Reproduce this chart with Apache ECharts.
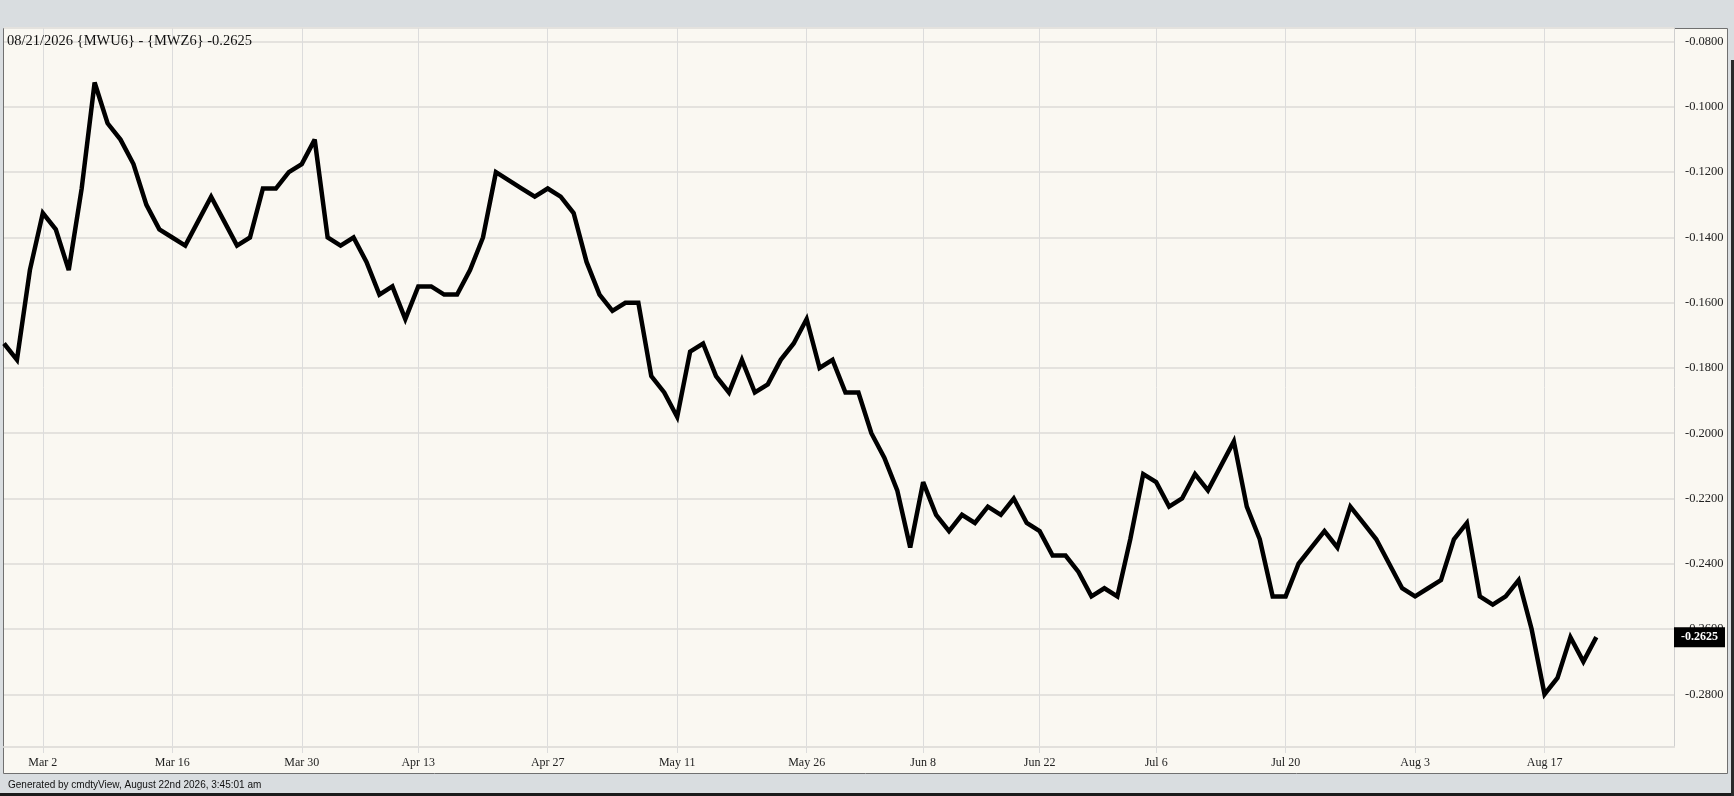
<!DOCTYPE html>
<html>
<head>
<meta charset="utf-8">
<script src="https://cdn.jsdelivr.net/npm/echarts@6/dist/echarts.min.js"></script>
<style>
html,body{margin:0;padding:0;background:#d9dde0;}
#chart{width:1734px;height:796px;}
</style>
</head>
<body>
<div id="chart"></div>
<script>
// Trading days (categories); the last few are empty future slots on the axis
const dates = [
 "Feb 25","Feb 26","Feb 27",
 "Mar 2","Mar 3","Mar 4","Mar 5","Mar 6",
 "Mar 9","Mar 10","Mar 11","Mar 12","Mar 13",
 "Mar 16","Mar 17","Mar 18","Mar 19","Mar 20",
 "Mar 23","Mar 24","Mar 25","Mar 26","Mar 27",
 "Mar 30","Mar 31","Apr 1","Apr 2",
 "Apr 6","Apr 7","Apr 8","Apr 9","Apr 10",
 "Apr 13","Apr 14","Apr 15","Apr 16","Apr 17",
 "Apr 20","Apr 21","Apr 22","Apr 23","Apr 24",
 "Apr 27","Apr 28","Apr 29","Apr 30","May 1",
 "May 4","May 5","May 6","May 7","May 8",
 "May 11","May 12","May 13","May 14","May 15",
 "May 18","May 19","May 20","May 21","May 22",
 "May 26","May 27","May 28","May 29",
 "Jun 1","Jun 2","Jun 3","Jun 4","Jun 5",
 "Jun 8","Jun 9","Jun 10","Jun 11","Jun 12",
 "Jun 15","Jun 16","Jun 17","Jun 18",
 "Jun 22","Jun 23","Jun 24","Jun 25","Jun 26",
 "Jun 29","Jun 30","Jul 1","Jul 2",
 "Jul 6","Jul 7","Jul 8","Jul 9","Jul 10",
 "Jul 13","Jul 14","Jul 15","Jul 16","Jul 17",
 "Jul 20","Jul 21","Jul 22","Jul 23","Jul 24",
 "Jul 27","Jul 28","Jul 29","Jul 30","Jul 31",
 "Aug 3","Aug 4","Aug 5","Aug 6","Aug 7",
 "Aug 10","Aug 11","Aug 12","Aug 13","Aug 14",
 "Aug 17","Aug 18","Aug 19","Aug 20","Aug 21",
 "Aug 24","Aug 25","Aug 26","Aug 27","Aug 28","Aug 31"
];

// Spread values {MWU6} - {MWZ6}
const spread = [
 -0.1725,-0.1775,-0.1500,
 -0.1325,-0.1375,-0.1500,-0.1250,-0.0925,
 -0.1050,-0.1100,-0.1175,-0.1300,-0.1375,
 -0.1400,-0.1425,-0.1350,-0.1275,-0.1350,
 -0.1425,-0.1400,-0.1250,-0.1250,-0.1200,
 -0.1175,-0.1100,-0.1400,-0.1425,
 -0.1400,-0.1475,-0.1575,-0.1550,-0.1650,
 -0.1550,-0.1550,-0.1575,-0.1575,-0.1500,
 -0.1400,-0.1200,-0.1225,-0.1250,-0.1275,
 -0.1250,-0.1275,-0.1325,-0.1475,-0.1575,
 -0.1625,-0.1600,-0.1600,-0.1825,-0.1875,
 -0.1950,-0.1750,-0.1725,-0.1825,-0.1875,
 -0.1775,-0.1875,-0.1850,-0.1775,-0.1725,
 -0.1650,-0.1800,-0.1775,-0.1875,
 -0.1875,-0.2000,-0.2075,-0.2175,-0.2350,
 -0.2150,-0.2250,-0.2300,-0.2250,-0.2275,
 -0.2225,-0.2250,-0.2200,-0.2275,
 -0.2300,-0.2375,-0.2375,-0.2425,-0.2500,
 -0.2475,-0.2500,-0.2325,-0.2125,
 -0.2150,-0.2225,-0.2200,-0.2125,-0.2175,
 -0.2100,-0.2025,-0.2225,-0.2325,-0.2500,
 -0.2500,-0.2400,-0.2350,-0.2300,-0.2350,
 -0.2225,-0.2275,-0.2325,-0.2400,-0.2475,
 -0.2500,-0.2475,-0.2450,-0.2325,-0.2275,
 -0.2500,-0.2525,-0.2500,-0.2450,-0.2600,
 -0.2800,-0.2750,-0.2625,-0.2700,-0.2625
];

// Labelled dates on the x axis
const tickLabels = ["Mar 2","Mar 16","Mar 30","Apr 13","Apr 27","May 11","May 26",
                    "Jun 8","Jun 22","Jul 6","Jul 20","Aug 3","Aug 17"];

const titleText = "08/21/2026 {MWU6} - {MWZ6} -0.2625";
const footerText = "Generated by cmdtyView, August 22nd 2026, 3:45:01 am";
const yMin = -0.29616, yMax = -0.0758;

const lastValue = spread[spread.length - 1];
const isTick = (idx, val) => tickLabels.indexOf(val) !== -1;
const serif = "'Liberation Serif', 'Times New Roman', serif";

const chart = echarts.init(document.getElementById('chart'), null, {renderer: 'canvas'});
chart.setOption({
  animation: false,
  backgroundColor: '#d9dde0',
  title: {
    text: titleText,
    left: 7, top: 34, padding: 0,
    textStyle: {fontFamily: serif, fontSize: 14.5, fontWeight: 'normal', color: '#111'}
  },
  graphic: {
    elements: [
      {type: 'rect', z: -100, shape: {x: 3.5, y: 28.5, width: 1724, height: 745},
       style: {fill: '#faf8f2', stroke: '#707070', lineWidth: 1}},
      {type: 'rect', z: -100, shape: {x: 0, y: 793, width: 1734, height: 3}, style: {fill: '#1b1b1b'}},
      {type: 'rect', z: -100, shape: {x: 1731, y: 60, width: 3, height: 736}, style: {fill: '#2a2a2a'}},
      {type: 'text', left: 8, top: 780,
       style: {text: footerText, font: "10px 'Liberation Sans', Arial, sans-serif", fill: '#111'}}
    ]
  },
  grid: {left: 4, right: 60, top: 28, bottom: 49, containLabel: false, show: false},
  xAxis: {
    type: 'category',
    data: dates,
    boundaryGap: false,
    axisLine: {show: true, lineStyle: {color: '#e2e0dc', width: 2}},
    axisTick: {show: true, interval: isTick, length: 6, lineStyle: {color: '#dcdcdc', width: 1}},
    axisLabel: {interval: isTick, margin: 10, fontFamily: serif, fontSize: 12, color: '#222'},
    splitLine: {show: true, interval: isTick, lineStyle: {color: '#dcdcdc', width: 1}}
  },
  yAxis: {
    type: 'value',
    position: 'right',
    min: yMin, max: yMax,
    splitNumber: 11,
    axisLine: {show: true, lineStyle: {color: '#cfcfcf', width: 1}},
    axisTick: {show: false},
    axisLabel: {
      margin: 11, fontFamily: serif, fontSize: 12.5, color: '#222',
      showMinLabel: false, showMaxLabel: false,
      formatter: v => v.toFixed(4)
    },
    splitLine: {show: true, lineStyle: {color: '#e4e2de', width: 2}}
  },
  series: [{
    type: 'line',
    data: spread,
    showSymbol: false,
    symbol: 'none',
    lineStyle: {color: '#000', width: 4.5, join: 'miter', miterLimit: 3},
    z: 3,
    markLine: {
      silent: true,
      precision: 4,
      symbol: ['none', 'none'],
      lineStyle: {color: 'rgba(0,0,0,0)', width: 1, type: 'solid'},
      data: [[
        {coord: [dates[0], lastValue]},
        {coord: [dates[dates.length - 1], lastValue]}
      ]],
      label: {
        show: true, position: 'end', distance: 0,
        formatter: () => lastValue.toFixed(4),
        backgroundColor: '#000', color: '#fff',
        padding: [4, 7, 4, 7],
        fontFamily: serif, fontSize: 12, fontWeight: 'bold'
      }
    }
  }]
});
</script>
</body>
</html>
